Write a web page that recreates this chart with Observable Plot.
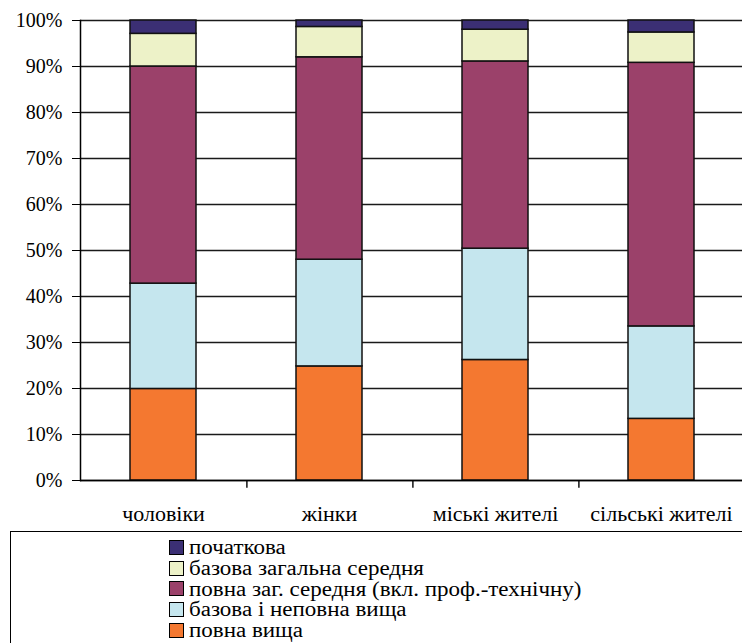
<!DOCTYPE html>
<html>
<head>
<meta charset="utf-8">
<script src="https://cdn.jsdelivr.net/npm/d3@7"></script>
<script src="https://cdn.jsdelivr.net/npm/@observablehq/plot@0.6"></script>
<style>
  html, body { margin: 0; padding: 0; background: #fff; overflow: hidden; width: 742px; height: 643px; }
  #wrap { position: relative; width: 742px; height: 643px; }
  #chart { position: absolute; left: 0; top: 0; }
  #legend {
    position: absolute; left: 10px; top: 531px; width: 800px; height: 200px;
    border: 1.5px solid #000; box-sizing: border-box;
    font-family: 'Liberation Serif', 'Times New Roman', serif; font-size: 20px; color: #000;
    padding: 5px 0 0 158px;
  }
  .item { display: flex; align-items: center; height: 20.8px; line-height: 20.8px; white-space: nowrap; }
  .sw { width: 13px; height: 13px; border: 1.5px solid #000; margin-right: 5px; flex: none; }
  .lbl { display: inline-block; transform: scaleX(1.15); transform-origin: left center; }
</style>
</head>
<body>
<div id="wrap">
  <div id="chart"></div>
  <div id="legend"></div>
</div>
<script>
// Categories (x axis)
const categories = ["чоловіки", "жінки", "міські жителі", "сільські жителі"];
// Series, bottom to top of each stack
const series = [
  "повна вища",
  "базова і неповна вища",
  "повна заг. середня (вкл. проф.-технічну)",
  "базова загальна середня",
  "початкова"
];
const colors = ["#F47830", "#C5E6EE", "#9B416A", "#EDF2C8", "#3B2F74"];
// Values (%) per category
const povnaVyshcha     = [19.9, 24.8, 26.2, 13.4];
const bazovaNepovna    = [22.9, 23.2, 24.2, 20.1];
const povnaZagSerednia = [47.2, 44.0, 40.7, 57.3];
const bazovaZagalna    = [7.1, 6.6, 6.9, 6.6];
const pochatkova       = [2.9, 1.4, 2.0, 2.6];
// Tick labels
const yTicks = [0, 10, 20, 30, 40, 50, 60, 70, 80, 90, 100];
// Legend order (top to bottom)
const legendOrder = [
  "початкова",
  "базова загальна середня",
  "повна заг. середня (вкл. проф.-технічну)",
  "базова і неповна вища",
  "повна вища"
];

const seriesValues = [povnaVyshcha, bazovaNepovna, povnaZagSerednia, bazovaZagalna, pochatkova];
const data = [];
series.forEach((s, si) => {
  categories.forEach((c, ci) => data.push({category: c, series: s, value: seriesValues[si][ci]}));
});

const font = "'Liberation Serif', 'Times New Roman', serif";
const chart = Plot.plot({
  width: 742,
  height: 530,
  marginTop: 20,
  marginBottom: 50,
  marginLeft: 80,
  marginRight: 0,
  style: {fontFamily: font, fontSize: "20px", color: "#000", background: "transparent", overflow: "visible"},
  x: {domain: categories, range: [79, 746], paddingInner: 0.6, paddingOuter: 0.3, label: null},
  y: {domain: [0, 100], label: null},
  color: {domain: series, range: colors},
  marks: [
    Plot.ruleY(yTicks, {stroke: "#1a1a1a", strokeWidth: 1.4}),
    Plot.barY(data, {x: "category", y: "value", fill: "series", order: series, stroke: "#111", strokeWidth: 1.5}),
    Plot.axisY(yTicks, {tickFormat: d => d + "%", tickSize: 8, tickPadding: 10, fontSize: 20, label: null, stroke: "#000"}),
    Plot.axisX({tickSize: 0, tickPadding: 25, fontSize: 22, label: null}),
    Plot.ruleX(categories.slice(0, 3), {x: d => d, dx: 83.4, y1: 0, y2: -1.7, stroke: "#000", strokeWidth: 1.4}),
    Plot.ruleY([0], {stroke: "#000", strokeWidth: 1.5}),
    Plot.frame({anchor: "left", stroke: "#000", strokeWidth: 1.5})
  ]
});
document.getElementById("chart").appendChild(chart);

const legend = document.getElementById("legend");
legendOrder.forEach(s => {
  const row = document.createElement("div");
  row.className = "item";
  const sw = document.createElement("span");
  sw.className = "sw";
  sw.style.background = colors[series.indexOf(s)];
  const t = document.createElement("span");
  t.className = "lbl";
  t.textContent = s;
  row.appendChild(sw);
  row.appendChild(t);
  legend.appendChild(row);
});
</script>
</body>
</html>
